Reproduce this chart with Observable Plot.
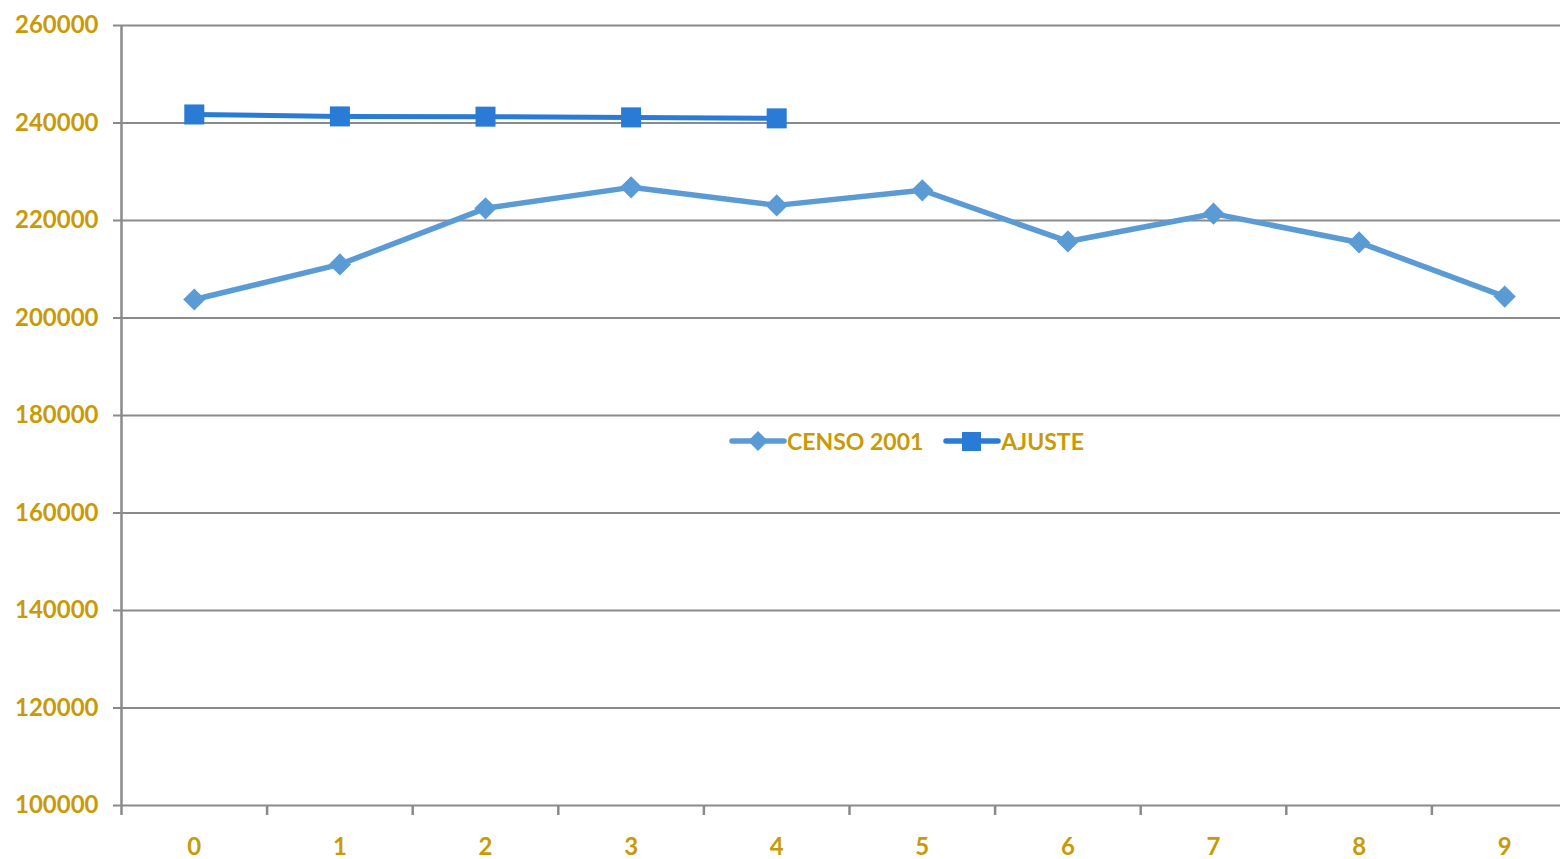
<!DOCTYPE html>
<html>
<head>
<meta charset="utf-8">
<script src="https://cdn.jsdelivr.net/npm/d3@7"></script>
<script src="https://cdn.jsdelivr.net/npm/@observablehq/plot@0.6"></script>
<style>
  html, body { margin: 0; padding: 0; background: #fff; }
  #wrap { position: relative; width: 1560px; height: 859px; overflow: hidden; }
  #legend { position: absolute; left: 729px; top: 427px; display: flex; align-items: center;
    font-family: Lato, "Open Sans", sans-serif; font-weight: 700; font-size: 23px; color: #c99a06; }
  #legend .item { display: flex; align-items: center; margin-right: 20px; }
  #legend svg { display: block; }
</style>
</head>
<body>
<div id="wrap"><div id="legend"></div></div>
<script>
const categories = [0, 1, 2, 3, 4, 5, 6, 7, 8, 9];
const censo2001 = [203800, 211000, 222500, 226800, 223100, 226200, 215700, 221400, 215500, 204400];
const ajuste = [241750, 241350, 241300, 241150, 240950];
const yTicks = [100000, 120000, 140000, 160000, 180000, 200000, 220000, 240000, 260000];
const seriesNames = ["CENSO 2001", "AJUSTE"];
const colors = ["#5b9bd5", "#2a7bd6"];
const gold = "#c99a06";
const gridColor = "#8a8a8a";

const censoData = categories.map((c, i) => ({x: c, y: censo2001[i]}));
const ajusteData = ajuste.map((v, i) => ({x: categories[i], y: v}));
const bandEdges = categories.map(c => c - 0.5);

const chart = Plot.plot({
  width: 1560,
  height: 859,
  marginLeft: 121,
  marginRight: 0,
  marginTop: 25,
  marginBottom: 54,
  style: {fontFamily: "Lato, 'Open Sans', sans-serif", fontSize: "24px", fontWeight: 700, background: "#fff"},
  x: {domain: [-0.5, 9.5], range: [121, 1577]},
  y: {domain: [100000, 260000]},
  marks: [
    Plot.ruleY(yTicks, {stroke: gridColor, strokeWidth: 2}),
    Plot.ruleX([bandEdges[0]], {y1: yTicks[0], y2: yTicks[yTicks.length - 1], stroke: gridColor, strokeWidth: 2.5}),
    Plot.axisY({ticks: yTicks, tickFormat: "d", tickSize: 8, tickPadding: 15, stroke: gridColor, strokeWidth: 2, fill: gold, label: null}),
    Plot.axisX({ticks: bandEdges, tickFormat: () => "", tickSize: 10, stroke: gridColor, strokeWidth: 2.5, label: null}),
    Plot.axisX({ticks: categories, tickFormat: "d", tickSize: 0, tickPadding: 32, fill: gold, label: null}),
    Plot.line(censoData, {x: "x", y: "y", stroke: colors[0], strokeWidth: 5.5, strokeLinejoin: "round"}),
    Plot.dot(censoData, {x: "x", y: "y", symbol: "diamond2", r: 10, fill: colors[0], stroke: "none"}),
    Plot.line(ajusteData, {x: "x", y: "y", stroke: colors[1], strokeWidth: 5}),
    Plot.dot(ajusteData, {x: "x", y: "y", symbol: "square", r: 11.3, fill: colors[1], stroke: "none"})
  ]
});
document.getElementById("wrap").prepend(chart);

// Legend
const legend = d3.select("#legend");
seriesNames.forEach((name, i) => {
  const item = legend.append("div").attr("class", "item");
  const s = item.append("svg").attr("width", 58).attr("height", 28);
  s.append("line").attr("x1", 3).attr("x2", 55).attr("y1", 14).attr("y2", 14)
    .attr("stroke", colors[i]).attr("stroke-width", 5.5).attr("stroke-linecap", "round");
  if (i === 0) {
    s.append("path").attr("d", "M29,4 L39,14 L29,24 L19,14 Z").attr("fill", colors[i]);
  } else {
    s.append("rect").attr("x", 19).attr("y", 5).attr("width", 19).attr("height", 19).attr("fill", colors[i]);
  }
  item.append("span").text(name);
});
</script>
</body>
</html>
